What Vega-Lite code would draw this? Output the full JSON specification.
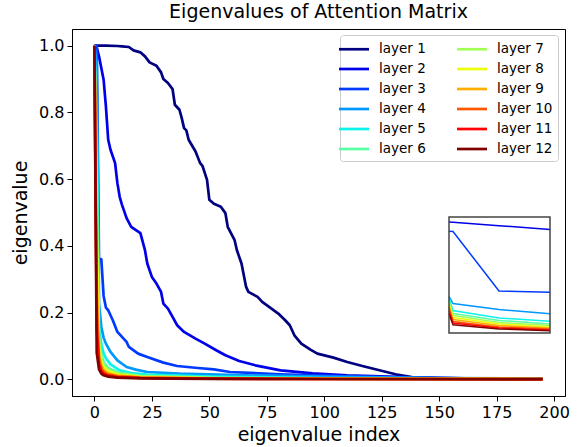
{
  "$schema": "https://vega.github.io/schema/vega-lite/v6.json",
  "width": 493,
  "height": 367,
  "autosize": {"type": "none"},
  "padding": {"left": 72, "top": 29, "right": 13, "bottom": 51},
  "background": "white",
  "title": {"text": "Eigenvalues of Attention Matrix", "fontSize": 19, "fontWeight": "normal", "font": "DejaVu Sans", "color": "black", "offset": 7},
  "config": {
    "view": {"stroke": "black", "strokeWidth": 1},
    "font": "DejaVu Sans",
    "axis": {"domainColor": "black", "tickColor": "black", "labelColor": "black", "titleColor": "black", "grid": false, "labelFont": "DejaVu Sans", "titleFont": "DejaVu Sans", "titleFontWeight": "normal", "labelFontSize": 16, "titleFontSize": 19, "tickSize": 5, "labelPadding": 3}
  },
  "datasets": {
    "main": [
      {"layer":"layer 1","index":0,"eigenvalue":1.0},{"layer":"layer 1","index":5,"eigenvalue":1.0},{"layer":"layer 1","index":10,"eigenvalue":0.999},{"layer":"layer 1","index":12,"eigenvalue":0.998},{"layer":"layer 1","index":15,"eigenvalue":0.996},{"layer":"layer 1","index":17,"eigenvalue":0.986},{"layer":"layer 1","index":20,"eigenvalue":0.98},{"layer":"layer 1","index":22,"eigenvalue":0.968},{"layer":"layer 1","index":24,"eigenvalue":0.95},{"layer":"layer 1","index":27,"eigenvalue":0.94},{"layer":"layer 1","index":29,"eigenvalue":0.92},{"layer":"layer 1","index":30,"eigenvalue":0.9},{"layer":"layer 1","index":32,"eigenvalue":0.888},{"layer":"layer 1","index":34,"eigenvalue":0.87},{"layer":"layer 1","index":35,"eigenvalue":0.823},{"layer":"layer 1","index":37,"eigenvalue":0.808},{"layer":"layer 1","index":38,"eigenvalue":0.783},{"layer":"layer 1","index":39,"eigenvalue":0.753},{"layer":"layer 1","index":40,"eigenvalue":0.746},{"layer":"layer 1","index":41,"eigenvalue":0.718},{"layer":"layer 1","index":44,"eigenvalue":0.683},{"layer":"layer 1","index":46,"eigenvalue":0.648},{"layer":"layer 1","index":47,"eigenvalue":0.64},{"layer":"layer 1","index":49,"eigenvalue":0.598},{"layer":"layer 1","index":50,"eigenvalue":0.538},{"layer":"layer 1","index":52,"eigenvalue":0.526},{"layer":"layer 1","index":55,"eigenvalue":0.517},{"layer":"layer 1","index":57,"eigenvalue":0.498},{"layer":"layer 1","index":58,"eigenvalue":0.457},{"layer":"layer 1","index":61,"eigenvalue":0.417},{"layer":"layer 1","index":62,"eigenvalue":0.387},{"layer":"layer 1","index":64,"eigenvalue":0.347},{"layer":"layer 1","index":65,"eigenvalue":0.312},{"layer":"layer 1","index":66,"eigenvalue":0.277},{"layer":"layer 1","index":67,"eigenvalue":0.262},{"layer":"layer 1","index":71,"eigenvalue":0.247},{"layer":"layer 1","index":73,"eigenvalue":0.232},{"layer":"layer 1","index":76,"eigenvalue":0.217},{"layer":"layer 1","index":80,"eigenvalue":0.197},{"layer":"layer 1","index":83,"eigenvalue":0.177},{"layer":"layer 1","index":85,"eigenvalue":0.162},{"layer":"layer 1","index":87,"eigenvalue":0.132},{"layer":"layer 1","index":90,"eigenvalue":0.107},{"layer":"layer 1","index":94,"eigenvalue":0.089},{"layer":"layer 1","index":97,"eigenvalue":0.077},{"layer":"layer 1","index":104,"eigenvalue":0.065},{"layer":"layer 1","index":110,"eigenvalue":0.052},{"layer":"layer 1","index":117,"eigenvalue":0.039},{"layer":"layer 1","index":124,"eigenvalue":0.027},{"layer":"layer 1","index":131,"eigenvalue":0.015},{"layer":"layer 1","index":138,"eigenvalue":0.007},{"layer":"layer 1","index":153,"eigenvalue":0.002},{"layer":"layer 1","index":175,"eigenvalue":0.001},{"layer":"layer 1","index":195,"eigenvalue":0.0005},
      {"layer":"layer 2","index":0,"eigenvalue":1.0},{"layer":"layer 2","index":1,"eigenvalue":0.995},{"layer":"layer 2","index":2,"eigenvalue":0.968},{"layer":"layer 2","index":4,"eigenvalue":0.898},{"layer":"layer 2","index":5,"eigenvalue":0.818},{"layer":"layer 2","index":6,"eigenvalue":0.718},{"layer":"layer 2","index":7,"eigenvalue":0.688},{"layer":"layer 2","index":9,"eigenvalue":0.648},{"layer":"layer 2","index":10,"eigenvalue":0.588},{"layer":"layer 2","index":11,"eigenvalue":0.547},{"layer":"layer 2","index":12,"eigenvalue":0.523},{"layer":"layer 2","index":14,"eigenvalue":0.483},{"layer":"layer 2","index":16,"eigenvalue":0.457},{"layer":"layer 2","index":20,"eigenvalue":0.438},{"layer":"layer 2","index":22,"eigenvalue":0.387},{"layer":"layer 2","index":23,"eigenvalue":0.347},{"layer":"layer 2","index":25,"eigenvalue":0.307},{"layer":"layer 2","index":27,"eigenvalue":0.287},{"layer":"layer 2","index":29,"eigenvalue":0.262},{"layer":"layer 2","index":30,"eigenvalue":0.227},{"layer":"layer 2","index":32,"eigenvalue":0.212},{"layer":"layer 2","index":34,"eigenvalue":0.187},{"layer":"layer 2","index":36,"eigenvalue":0.162},{"layer":"layer 2","index":39,"eigenvalue":0.142},{"layer":"layer 2","index":44,"eigenvalue":0.122},{"layer":"layer 2","index":48,"eigenvalue":0.107},{"layer":"layer 2","index":53,"eigenvalue":0.087},{"layer":"layer 2","index":57,"eigenvalue":0.072},{"layer":"layer 2","index":63,"eigenvalue":0.055},{"layer":"layer 2","index":70,"eigenvalue":0.042},{"layer":"layer 2","index":81,"eigenvalue":0.027},{"layer":"layer 2","index":95,"eigenvalue":0.018},{"layer":"layer 2","index":110,"eigenvalue":0.012},{"layer":"layer 2","index":139,"eigenvalue":0.006},{"layer":"layer 2","index":167,"eigenvalue":0.002},{"layer":"layer 2","index":195,"eigenvalue":0.001},
      {"layer":"layer 3","index":0,"eigenvalue":1.0},{"layer":"layer 3","index":1,"eigenvalue":1.0},{"layer":"layer 3","index":2,"eigenvalue":0.362},{"layer":"layer 3","index":3,"eigenvalue":0.36},{"layer":"layer 3","index":4,"eigenvalue":0.25},{"layer":"layer 3","index":5,"eigenvalue":0.215},{"layer":"layer 3","index":6,"eigenvalue":0.207},{"layer":"layer 3","index":8,"eigenvalue":0.177},{"layer":"layer 3","index":10,"eigenvalue":0.142},{"layer":"layer 3","index":14,"eigenvalue":0.112},{"layer":"layer 3","index":15,"eigenvalue":0.097},{"layer":"layer 3","index":19,"eigenvalue":0.077},{"layer":"layer 3","index":23,"eigenvalue":0.067},{"layer":"layer 3","index":30,"eigenvalue":0.05},{"layer":"layer 3","index":36,"eigenvalue":0.04},{"layer":"layer 3","index":45,"eigenvalue":0.034},{"layer":"layer 3","index":52,"eigenvalue":0.03},{"layer":"layer 3","index":59,"eigenvalue":0.022},{"layer":"layer 3","index":81,"eigenvalue":0.015},{"layer":"layer 3","index":110,"eigenvalue":0.009},{"layer":"layer 3","index":138,"eigenvalue":0.005},{"layer":"layer 3","index":167,"eigenvalue":0.002},{"layer":"layer 3","index":195,"eigenvalue":0.001},
      {"layer":"layer 4","index":0,"eigenvalue":1.0},{"layer":"layer 4","index":1,"eigenvalue":0.95},{"layer":"layer 4","index":2,"eigenvalue":0.227},{"layer":"layer 4","index":3,"eigenvalue":0.157},{"layer":"layer 4","index":4,"eigenvalue":0.125},{"layer":"layer 4","index":5,"eigenvalue":0.107},{"layer":"layer 4","index":7,"eigenvalue":0.082},{"layer":"layer 4","index":10,"eigenvalue":0.057},{"layer":"layer 4","index":14,"eigenvalue":0.037},{"layer":"layer 4","index":18,"eigenvalue":0.029},{"layer":"layer 4","index":23,"eigenvalue":0.022},{"layer":"layer 4","index":37,"eigenvalue":0.017},{"layer":"layer 4","index":66,"eigenvalue":0.012},{"layer":"layer 4","index":100,"eigenvalue":0.008},{"layer":"layer 4","index":150,"eigenvalue":0.004},{"layer":"layer 4","index":195,"eigenvalue":0.002},
      {"layer":"layer 5","index":0,"eigenvalue":1.0},{"layer":"layer 5","index":1,"eigenvalue":0.75},{"layer":"layer 5","index":2,"eigenvalue":0.157},{"layer":"layer 5","index":3,"eigenvalue":0.105},{"layer":"layer 5","index":4,"eigenvalue":0.078},{"layer":"layer 5","index":5,"eigenvalue":0.063},{"layer":"layer 5","index":7,"eigenvalue":0.045},{"layer":"layer 5","index":11,"eigenvalue":0.027},{"layer":"layer 5","index":16,"eigenvalue":0.019},{"layer":"layer 5","index":23,"eigenvalue":0.014},{"layer":"layer 5","index":50,"eigenvalue":0.008},{"layer":"layer 5","index":100,"eigenvalue":0.004},{"layer":"layer 5","index":150,"eigenvalue":0.003},{"layer":"layer 5","index":195,"eigenvalue":0.002},
      {"layer":"layer 6","index":0,"eigenvalue":1.0},{"layer":"layer 6","index":1,"eigenvalue":0.6},{"layer":"layer 6","index":2,"eigenvalue":0.125},{"layer":"layer 6","index":3,"eigenvalue":0.075},{"layer":"layer 6","index":4,"eigenvalue":0.052},{"layer":"layer 6","index":6,"eigenvalue":0.034},{"layer":"layer 6","index":10,"eigenvalue":0.021},{"layer":"layer 6","index":20,"eigenvalue":0.011},{"layer":"layer 6","index":50,"eigenvalue":0.005},{"layer":"layer 6","index":100,"eigenvalue":0.003},{"layer":"layer 6","index":195,"eigenvalue":0.001},
      {"layer":"layer 7","index":0,"eigenvalue":1.0},{"layer":"layer 7","index":1,"eigenvalue":0.5},{"layer":"layer 7","index":2,"eigenvalue":0.105},{"layer":"layer 7","index":3,"eigenvalue":0.062},{"layer":"layer 7","index":4,"eigenvalue":0.043},{"layer":"layer 7","index":6,"eigenvalue":0.028},{"layer":"layer 7","index":10,"eigenvalue":0.017},{"layer":"layer 7","index":20,"eigenvalue":0.009},{"layer":"layer 7","index":50,"eigenvalue":0.004},{"layer":"layer 7","index":100,"eigenvalue":0.002},{"layer":"layer 7","index":195,"eigenvalue":0.001},
      {"layer":"layer 8","index":0,"eigenvalue":1.0},{"layer":"layer 8","index":1,"eigenvalue":0.4},{"layer":"layer 8","index":2,"eigenvalue":0.088},{"layer":"layer 8","index":3,"eigenvalue":0.05},{"layer":"layer 8","index":4,"eigenvalue":0.035},{"layer":"layer 8","index":6,"eigenvalue":0.023},{"layer":"layer 8","index":10,"eigenvalue":0.014},{"layer":"layer 8","index":20,"eigenvalue":0.007},{"layer":"layer 8","index":50,"eigenvalue":0.003},{"layer":"layer 8","index":100,"eigenvalue":0.002},{"layer":"layer 8","index":195,"eigenvalue":0.001},
      {"layer":"layer 9","index":0,"eigenvalue":1.0},{"layer":"layer 9","index":1,"eigenvalue":0.3},{"layer":"layer 9","index":2,"eigenvalue":0.072},{"layer":"layer 9","index":3,"eigenvalue":0.04},{"layer":"layer 9","index":4,"eigenvalue":0.028},{"layer":"layer 9","index":6,"eigenvalue":0.018},{"layer":"layer 9","index":10,"eigenvalue":0.011},{"layer":"layer 9","index":20,"eigenvalue":0.006},{"layer":"layer 9","index":50,"eigenvalue":0.003},{"layer":"layer 9","index":100,"eigenvalue":0.0015},{"layer":"layer 9","index":195,"eigenvalue":0.0008},
      {"layer":"layer 10","index":0,"eigenvalue":1.0},{"layer":"layer 10","index":1,"eigenvalue":0.22},{"layer":"layer 10","index":2,"eigenvalue":0.058},{"layer":"layer 10","index":3,"eigenvalue":0.032},{"layer":"layer 10","index":4,"eigenvalue":0.022},{"layer":"layer 10","index":6,"eigenvalue":0.014},{"layer":"layer 10","index":10,"eigenvalue":0.009},{"layer":"layer 10","index":20,"eigenvalue":0.005},{"layer":"layer 10","index":50,"eigenvalue":0.002},{"layer":"layer 10","index":100,"eigenvalue":0.001},{"layer":"layer 10","index":195,"eigenvalue":0.0006},
      {"layer":"layer 11","index":0,"eigenvalue":1.0},{"layer":"layer 11","index":1,"eigenvalue":0.15},{"layer":"layer 11","index":2,"eigenvalue":0.045},{"layer":"layer 11","index":3,"eigenvalue":0.025},{"layer":"layer 11","index":4,"eigenvalue":0.017},{"layer":"layer 11","index":6,"eigenvalue":0.011},{"layer":"layer 11","index":10,"eigenvalue":0.007},{"layer":"layer 11","index":20,"eigenvalue":0.004},{"layer":"layer 11","index":50,"eigenvalue":0.002},{"layer":"layer 11","index":100,"eigenvalue":0.001},{"layer":"layer 11","index":195,"eigenvalue":0.0005},
      {"layer":"layer 12","index":0,"eigenvalue":1.0},{"layer":"layer 12","index":1,"eigenvalue":0.08},{"layer":"layer 12","index":2,"eigenvalue":0.03},{"layer":"layer 12","index":3,"eigenvalue":0.017},{"layer":"layer 12","index":4,"eigenvalue":0.012},{"layer":"layer 12","index":6,"eigenvalue":0.008},{"layer":"layer 12","index":10,"eigenvalue":0.005},{"layer":"layer 12","index":20,"eigenvalue":0.003},{"layer":"layer 12","index":50,"eigenvalue":0.0015},{"layer":"layer 12","index":100,"eigenvalue":0.001},{"layer":"layer 12","index":195,"eigenvalue":0.0004}
    ],
    "inset": [
      {"layer":"layer 2","index":0.913,"eigenvalue":0.4349},{"layer":"layer 2","index":1,"eigenvalue":0.434},{"layer":"layer 2","index":2,"eigenvalue":0.4238},{"layer":"layer 2","index":3.109,"eigenvalue":0.4123},
      {"layer":"layer 3","index":0.913,"eigenvalue":0.4069},{"layer":"layer 3","index":1,"eigenvalue":0.4063},{"layer":"layer 3","index":2,"eigenvalue":0.2267},{"layer":"layer 3","index":3.109,"eigenvalue":0.2231},
      {"layer":"layer 4","index":0.913,"eigenvalue":0.2107},{"layer":"layer 4","index":1,"eigenvalue":0.189},{"layer":"layer 4","index":2,"eigenvalue":0.1709},{"layer":"layer 4","index":3.109,"eigenvalue":0.1582},
      {"layer":"layer 5","index":0.913,"eigenvalue":0.2056},{"layer":"layer 5","index":1,"eigenvalue":0.1679},{"layer":"layer 5","index":2,"eigenvalue":0.1453},{"layer":"layer 5","index":3.109,"eigenvalue":0.1353},
      {"layer":"layer 6","index":0.913,"eigenvalue":0.1996},{"layer":"layer 6","index":1,"eigenvalue":0.1588},{"layer":"layer 6","index":2,"eigenvalue":0.1377},{"layer":"layer 6","index":3.109,"eigenvalue":0.1272},
      {"layer":"layer 7","index":0.913,"eigenvalue":0.1936},{"layer":"layer 7","index":1,"eigenvalue":0.1528},{"layer":"layer 7","index":2,"eigenvalue":0.1317},{"layer":"layer 7","index":3.109,"eigenvalue":0.1226},
      {"layer":"layer 8","index":0.913,"eigenvalue":0.1875},{"layer":"layer 8","index":1,"eigenvalue":0.1468},{"layer":"layer 8","index":2,"eigenvalue":0.1272},{"layer":"layer 8","index":3.109,"eigenvalue":0.1181},
      {"layer":"layer 9","index":0.913,"eigenvalue":0.1815},{"layer":"layer 9","index":1,"eigenvalue":0.1407},{"layer":"layer 9","index":2,"eigenvalue":0.1226},{"layer":"layer 9","index":3.109,"eigenvalue":0.1151},
      {"layer":"layer 10","index":0.913,"eigenvalue":0.1754},{"layer":"layer 10","index":1,"eigenvalue":0.1347},{"layer":"layer 10","index":2,"eigenvalue":0.1181},{"layer":"layer 10","index":3.109,"eigenvalue":0.1121},
      {"layer":"layer 11","index":0.913,"eigenvalue":0.1664},{"layer":"layer 11","index":1,"eigenvalue":0.1302},{"layer":"layer 11","index":2,"eigenvalue":0.1151},{"layer":"layer 11","index":3.109,"eigenvalue":0.1091},
      {"layer":"layer 12","index":0.913,"eigenvalue":0.1582},{"layer":"layer 12","index":1,"eigenvalue":0.125},{"layer":"layer 12","index":2,"eigenvalue":0.1121},{"layer":"layer 12","index":3.109,"eigenvalue":0.107}
    ]
  },
  "layer": [
    {
      "data": {"name": "main"},
      "mark": {"type": "line", "strokeWidth": 2.7, "strokeJoin": "round"},
      "encoding": {
        "x": {"field": "index", "type": "quantitative", "scale": {"domain": [-9.75, 204.75], "nice": false, "zero": false},
              "axis": {"values": [0, 25, 50, 75, 100, 125, 150, 175, 200], "title": "eigenvalue index", "titlePadding": 5}},
        "y": {"field": "eigenvalue", "type": "quantitative", "scale": {"domain": [-0.05, 1.05], "nice": false, "zero": false},
              "axis": {"values": [0, 0.2, 0.4, 0.6, 0.8, 1.0], "format": ".1f", "title": "eigenvalue", "titlePadding": 8}},
        "color": {"field": "layer", "type": "nominal",
                  "scale": {"domain": ["layer 1","layer 2","layer 3","layer 4","layer 5","layer 6","layer 7","layer 8","layer 9","layer 10","layer 11","layer 12"],
                            "range": ["#000080","#0000e9","#003aff","#0097ff","#0bf3ec","#56ffa1","#a1ff56","#ecff0b","#ffad00","#ff5700","#ff0200","#800000"]},
                  "legend": {"orient": "none", "legendX": 268, "legendY": 6, "columns": 2, "direction": "vertical", "title": null,
                             "symbolType": "M-2,0H2", "symbolSize": 225, "symbolStrokeWidth": 2.7, "labelFontSize": 13.5, "labelFont": "DejaVu Sans", "labelColor": "black",
                             "rowPadding": 4, "columnPadding": 25, "padding": 5, "strokeColor": "#cccccc", "fillColor": "white", "cornerRadius": 3, "labelOffset": 16}}
      }
    },
    {
      "layer": [
        {
          "data": {"name": "inset"},
          "mark": {"type": "line", "strokeWidth": 1.5},
          "encoding": {
            "x": {"field": "index", "type": "quantitative", "scale": {"domain": [0.913, 3.109], "range": [377, 478], "nice": false, "zero": false}, "axis": null},
            "y": {"field": "eigenvalue", "type": "quantitative", "scale": {"domain": [0.1, 0.45], "range": [304, 188], "nice": false, "zero": false}, "axis": null},
            "color": {"field": "layer", "type": "nominal"}
          }
        },
        {
          "data": {"values": [{}]},
          "mark": {"type": "rect", "fill": null, "stroke": "#444444", "strokeWidth": 1.5},
          "encoding": {
            "x": {"datum": 0.913, "type": "quantitative"},
            "x2": {"datum": 3.109},
            "y": {"datum": 0.1, "type": "quantitative"},
            "y2": {"datum": 0.45}
          }
        }
      ]
    }
  ],
  "resolve": {"scale": {"x": "independent", "y": "independent"}}
}
